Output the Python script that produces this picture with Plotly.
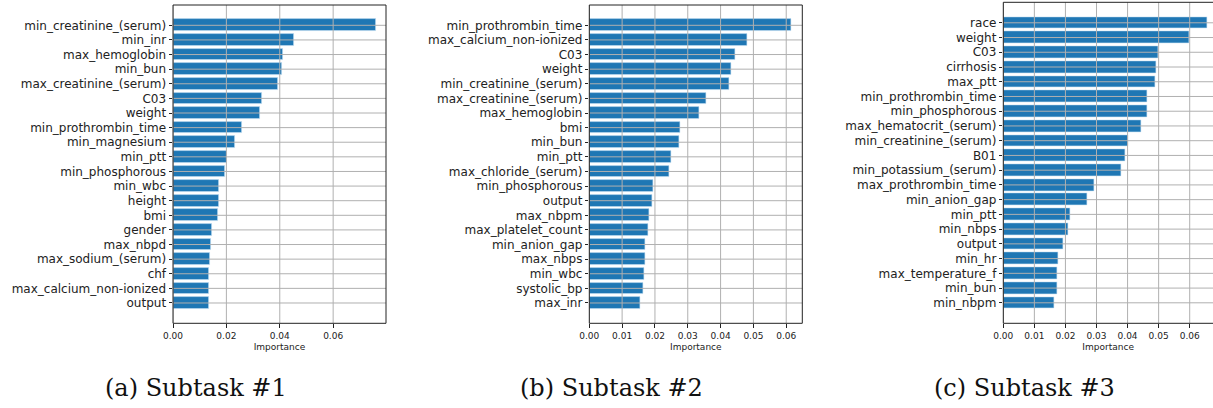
import plotly.graph_objects as go

# Feature importances, largest first, for each subtask
features_1 = ["min_creatinine_(serum)", "min_inr", "max_hemoglobin", "min_bun",
              "max_creatinine_(serum)", "C03", "weight", "min_prothrombin_time",
              "min_magnesium", "min_ptt", "min_phosphorous", "min_wbc", "height",
              "bmi", "gender", "max_nbpd", "max_sodium_(serum)", "chf",
              "max_calcium_non-ionized", "output"]
importance_1 = [0.0760, 0.0453, 0.0411, 0.0409, 0.0394, 0.0334, 0.0326, 0.0260,
                0.0234, 0.0201, 0.0193, 0.0172, 0.0173, 0.0170, 0.0146, 0.0141,
                0.0139, 0.0136, 0.0134, 0.0133]

features_2 = ["min_prothrombin_time", "max_calcium_non-ionized", "C03", "weight",
              "min_creatinine_(serum)", "max_creatinine_(serum)", "max_hemoglobin",
              "bmi", "min_bun", "min_ptt", "max_chloride_(serum)", "min_phosphorous",
              "output", "max_nbpm", "max_platelet_count", "min_anion_gap",
              "max_nbps", "min_wbc", "systolic_bp", "max_inr"]
importance_2 = [0.0616, 0.0480, 0.0445, 0.0432, 0.0426, 0.0355, 0.0334, 0.0278,
                0.0273, 0.0250, 0.0245, 0.0196, 0.0191, 0.0183, 0.0179, 0.0171,
                0.0170, 0.0168, 0.0166, 0.0156]

features_3 = ["race", "weight", "C03", "cirrhosis", "max_ptt", "min_prothrombin_time",
              "min_phosphorous", "max_hematocrit_(serum)", "min_creatinine_(serum)",
              "B01", "min_potassium_(serum)", "max_prothrombin_time", "min_anion_gap",
              "min_ptt", "min_nbps", "output", "min_hr", "max_temperature_f",
              "min_bun", "min_nbpm"]
importance_3 = [0.0657, 0.0600, 0.0499, 0.0493, 0.0490, 0.0464, 0.0464, 0.0443,
                0.0402, 0.0393, 0.0379, 0.0292, 0.0269, 0.0215, 0.0209, 0.0194,
                0.0177, 0.0175, 0.0173, 0.0165]

captions = ["(a) Subtask #1", "(b) Subtask #2", "(c) Subtask #3"]

x_ticks_1 = [0.00, 0.02, 0.04, 0.06]
x_ticks_2 = [0.00, 0.01, 0.02, 0.03, 0.04, 0.05, 0.06]
x_ticks_3 = [0.00, 0.01, 0.02, 0.03, 0.04, 0.05, 0.06]

W, H = 1213, 408
BAR = "#1f77b4"
GRID = "#b0b0b0"
TXT = "#222222"

panels = [
    dict(feat=features_1, imp=importance_1, ticks=x_ticks_1,
         xdom=(173, 386), ytop=5, xmax=0.0798, right=True, cap_x=196),
    dict(feat=features_2, imp=importance_2, ticks=x_ticks_2,
         xdom=(589.3, 802.3), ytop=5, xmax=0.0649, right=True, cap_x=611),
    dict(feat=features_3, imp=importance_3, ticks=x_ticks_3,
         xdom=(1003.3, 1213), ytop=2.3, xmax=0.0675, right=False, cap_x=1024),
]
YBOT = 323.3

fig = go.Figure()
shapes = []
annotations = []
layout = {}

for k, p in enumerate(panels, start=1):
    n = len(p["feat"])
    ypos = [n - 1 - i for i in range(n)]
    xa = "x" if k == 1 else f"x{k}"
    ya = "y" if k == 1 else f"y{k}"
    fig.add_trace(go.Bar(
        x=p["imp"], y=ypos, orientation="h", width=0.8,
        marker=dict(color=BAR, line=dict(color="rgba(200,225,245,0.7)", width=0.8)),
        xaxis=xa, yaxis=ya, showlegend=False,
    ))
    ylo, yhi = -0.4 - 0.05 * (n - 0.2), (n - 1) + 0.4 + 0.05 * (n - 0.2)

    # grid drawn over the bars
    for t in p["ticks"]:
        shapes.append(dict(type="line", xref=xa, yref=f"{ya} domain",
                           x0=t, x1=t, y0=0, y1=1, layer="above",
                           line=dict(color=GRID, width=1)))
    for yv in ypos:
        shapes.append(dict(type="line", xref=f"{xa} domain", yref=ya,
                           x0=0, x1=1, y0=yv, y1=yv, layer="above",
                           line=dict(color=GRID, width=1)))

    # frame
    frame = dict(xref=f"{xa} domain", yref=f"{ya} domain", layer="above",
                 line=dict(color="#222222", width=1))
    shapes.append(dict(type="line", x0=0, x1=1, y0=0, y1=0, **frame))
    shapes.append(dict(type="line", x0=0, x1=1, y0=1, y1=1, **frame))
    shapes.append(dict(type="line", x0=0, x1=0, y0=0, y1=1, **frame))
    if p["right"]:
        shapes.append(dict(type="line", x0=1, x1=1, y0=0, y1=1, **frame))

    layout[f"xaxis{'' if k == 1 else k}"] = dict(
        domain=[p["xdom"][0] / W, p["xdom"][1] / W], anchor=ya,
        range=[0, p["xmax"]], tickvals=p["ticks"],
        ticktext=[f"{t:.2f}" for t in p["ticks"]],
        showgrid=False, zeroline=False, showline=False, automargin=False,
        ticks="outside", ticklen=3.5, tickwidth=1, tickcolor=TXT,
        tickfont=dict(family="DejaVu Sans", size=9, color=TXT),
        title=dict(text="Importance", font=dict(family="DejaVu Sans", size=9, color=TXT),
                   standoff=4),
    )
    layout[f"yaxis{'' if k == 1 else k}"] = dict(
        domain=[1 - YBOT / H, 1 - p["ytop"] / H], anchor=xa,
        range=[ylo, yhi], tickvals=ypos, ticktext=p["feat"],
        showgrid=False, zeroline=False, showline=False, automargin=False,
        ticks="outside", ticklen=3.5, tickwidth=1, tickcolor=TXT,
        tickfont=dict(family="DejaVu Sans", size=12, color=TXT),
    )
    annotations.append(dict(
        text=captions[k - 1], x=p["cap_x"] / W, y=1 - 388 / H,
        xref="paper", yref="paper", showarrow=False,
        xanchor="center", yanchor="middle",
        font=dict(family="DejaVu Serif", size=24, color="#111111"),
    ))

fig.update_layout(
    width=W, height=H, margin=dict(l=0, r=0, t=0, b=0, autoexpand=False),
    paper_bgcolor="white", plot_bgcolor="white",
    shapes=shapes, annotations=annotations, bargap=0,
    **layout,
)

fig.write_html("out.html")
